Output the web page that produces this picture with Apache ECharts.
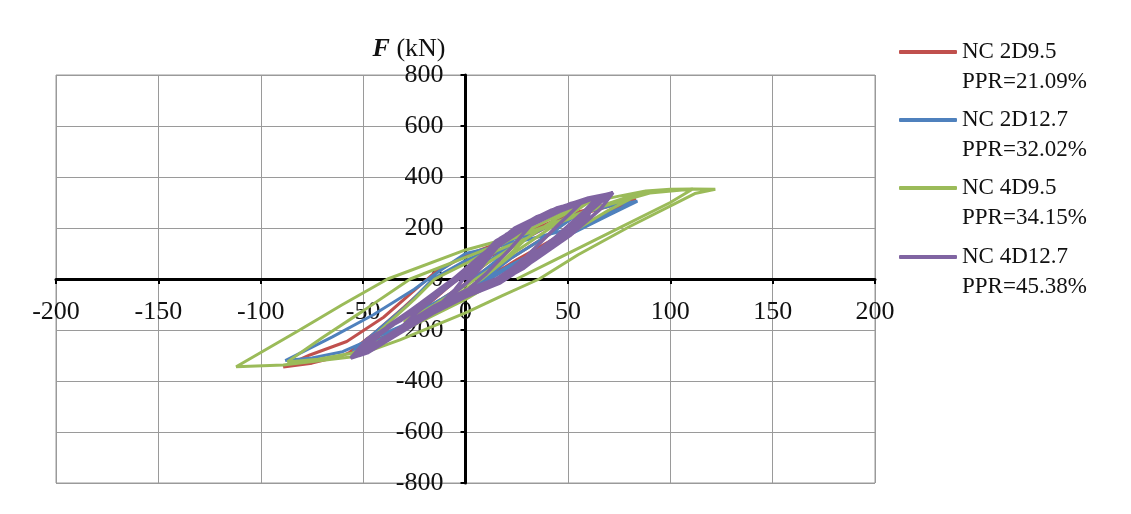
<!DOCTYPE html>
<html>
<head>
<meta charset="utf-8">
<script src="https://cdn.jsdelivr.net/npm/echarts/dist/echarts.min.js"></script>
<style>
	html, body { margin: 0; padding: 0; background: #fff; }
	#main { width: 1131px; height: 514px; }
</style>
</head>
<body>
<div id="main"></div>
<script>
// 坐标轴范围
var xRange = [-200, 200, 50];
var yRange = [-800, 800, 200];

var names = [
	'NC 2D9.5\nPPR=21.09%',
	'NC 2D12.7\nPPR=32.02%',
	'NC 4D9.5\nPPR=34.15%',
	'NC 4D12.7\nPPR=45.38%'
];
var colors = ['#C0504D', '#4F81BD', '#9BBB59', '#8064A2'];

// 滞回曲线 [位移, 力]
var nc2d95 = [
	[0,0],[12,70],[25,140],[14,60],[3,0],[0,-18],[-12,-80],[-25,-145],[-14,-70],[-4,0],[0,25],[12,90],[25,140],
	[40,205],[56,265],[42,180],[22,80],[8,0],[0,-45],[-25,-170],[-45,-250],[-57,-290],[-45,-215],[-30,-110],[-15,0],[0,70],[25,165],[45,235],[56,265],
	[70,295],[83,318],[68,255],[45,165],[25,75],[10,0],[0,-55],[-30,-190],[-60,-300],[-75,-330],[-89,-345],[-76,-298],[-58,-245],[-40,-150],[-25,-45],[-15,25],[0,92],[30,185],[60,262],[83,315],
	[65,240],[40,140],[20,50],[8,0]
];
var nc2d127 = [
	[0,0],[12,75],[25,145],[14,65],[4,0],[0,-20],[-12,-80],[-25,-140],[-14,-65],[-4,0],[0,28],[12,95],[25,145],
	[40,205],[55,255],[40,170],[22,80],[9,0],[0,-45],[-25,-165],[-45,-250],[-55,-285],[-42,-195],[-28,-100],[-16,0],[0,72],[25,160],[45,225],[55,255],
	[70,285],[84,305],[72,263],[60,220],[35,110],[12,0],[0,-55],[-30,-180],[-60,-285],[-75,-310],[-88,-320],[-65,-227],[-45,-140],[-25,-40],[-12,35],[0,100],[28,150],[56,206],[70,258],[84,305],
	[70,250],[45,150],[22,55],[10,0]
];
var nc4d95 = [
	[0,0],[10,60],[20,110],[30,160],[18,70],[5,0],[0,-25],[-15,-100],[-30,-170],[-18,-80],[-5,0],[0,30],[15,110],[30,160],
	[45,240],[60,300],[45,220],[25,110],[8,0],[0,-40],[-15,-115],[-30,-190],[-45,-260],[-56,-305],[-40,-190],[-25,-80],[-15,0],[0,60],[15,125],[30,190],[45,250],[60,300],
	[75,325],[88,345],[70,270],[45,150],[17,0],[0,-80],[-30,-200],[-55,-290],[-72,-315],[-87,-325],[-70,-230],[-50,-125],[-27,0],[0,85],[30,180],[60,270],[88,345],
	[100,352],[111,353],[122,352],[112,335],[80,205],[55,95],[36,0],[18,-65],[0,-133],[-32,-239],[-55,-305],[-89,-337],[-112,-344],
	[-81,-200],[-60,-100],[-38,0],[0,114],[36,192],[66,282],[90,337],[111,353],[100,300],[70,180],[45,80],[25,0]
];
var nc4d127 = [
	[0,0],[8,60],[15,120],[5,20],[0,-20],[-8,-70],[-15,-120],[-5,-40],[0,10],[15,120],
	[25,190],[35,240],[22,120],[10,20],[0,-50],[-15,-120],[-30,-200],[-38,-240],[-25,-140],[-10,-40],[0,20],[15,150],[35,240],
	[50,290],[58,310],[45,210],[30,90],[15,-10],[0,-70],[-16,-135],[-32,-210],[-48,-290],[-52,-300],[-45,-230],[-30,-150],[-15,-65],[0,25],[17,160],[35,245],[50,290],[58,310],
	[72,338],[66,275],[51,170],[34,75],[17,-15],[0,-70],[-16,-135],[-32,-212],[-48,-290],[-56,-310],[-48,-235],[-32,-165],[-16,-75],[0,20],[17,160],[34,240],[51,295],[72,338],
	[64,290],[48,180],[30,70],[14,-10],[0,-60],[-20,-150],[-40,-250],[-55,-305],[-44,-220],[-25,-120],[-8,-20],[5,60],[20,175],[40,260],[60,310],[70,330],
	[62,300],[55,240],[40,130],[22,20],[8,-40],[0,-65],[-12,-110],[-28,-190],[-44,-265],[-54,-300],[-46,-240],[-30,-150],[-14,-55],[0,30],[12,120],[28,215],[45,280],[66,325],
	[58,265],[42,150],[26,50],[10,-35],[0,-60],[-18,-140],[-36,-230],[-50,-290],[-40,-200],[-22,-95],[-6,0],[8,95],[24,200],[42,270],[60,318],[71,335],
	[60,260],[45,170],[30,80],[15,0],[0,-45],[-15,-105],[-30,-180],[-45,-260],[-53,-295],[-42,-210],[-26,-120],[-10,-30],[4,50],[18,140],[32,215],[50,285],[68,330],
	[55,230],[38,120],[22,30],[6,-40],[-10,-90],[-26,-165],[-42,-245],[-50,-285],[-38,-185],[-20,-85],[-2,15],[12,110],[28,195],[46,265],[64,320],
	[60,250],[44,140],[28,40],[12,-30],[0,-55]
];
var curves = [nc2d95, nc2d127, nc4d95, nc4d127];

// 图例位置
var legendTops = [7, 75, 143, 212];

var font = 'Liberation Serif, Times New Roman, serif';

// 绘图区 (像素)
var gridL = 56, gridR = 256, gridT = 75, gridB = 31;
var plotW = 1131 - gridL - gridR, plotH = 514 - gridT - gridB;

var axisCommon = {
	type: 'value',
	axisLine: { onZero: false, lineStyle: { color: '#000', width: 3 } },
	axisTick: { show: true, length: 5, lineStyle: { color: '#000', width: 2 } },
	splitLine: { show: true, lineStyle: { color: '#9a9a9a', width: 1 } },
	axisLabel: { fontFamily: font, fontSize: 26, color: '#111', showMinLabel: true, showMaxLabel: true }
};

var option = {
	animation: false,
	backgroundColor: '#fff',
	grid: {
		left: gridL, right: gridR, top: gridT, bottom: gridB,
		show: true, borderColor: '#9a9a9a', borderWidth: 1
	},
	// 轴移到零点
	xAxis: echarts.util.merge({
		position: 'bottom',
		offset: -plotH / 2,
		min: xRange[0], max: xRange[1], interval: xRange[2],
		axisLabel: { margin: 20 }
	}, axisCommon),
	yAxis: echarts.util.merge({
		position: 'left',
		offset: -plotW / 2,
		min: yRange[0], max: yRange[1], interval: yRange[2],
		axisLabel: { margin: 22 },
		name: '{b|F} (kN)',
		nameLocation: 'end',
		nameGap: 13,
		nameTextStyle: {
			fontFamily: font, fontSize: 26, color: '#111',
			align: 'right', verticalAlign: 'bottom', padding: [0, 20, 0, 0],
			rich: { b: { fontFamily: font, fontSize: 26, fontStyle: 'italic', fontWeight: 'bold', color: '#111' } }
		}
	}, axisCommon),
	legend: names.map(function (n, i) {
		return {
			data: [n],
			left: 899,
			top: legendTops[i],
			padding: 0,
			orient: 'vertical',
			icon: 'roundRect',
			itemWidth: 58,
			itemHeight: 4,
			selectedMode: false,
			formatter: function (name) { return ' \n' + name; },
			textStyle: { fontFamily: font, fontSize: 23, color: '#111', lineHeight: 30 }
		};
	}),
	series: function () {
		var serie = [];
		for (var i = 0; i < names.length; i++) {
			serie.push({
				name: names[i],
				type: 'line',
				data: curves[i],
				symbol: 'none',
				smooth: false,
				color: colors[i],
				lineStyle: { color: colors[i], width: i == 3 ? 3.5 : 3 }
			});
		}
		return serie;
	}()
};

var myChart = echarts.init(document.getElementById('main'));
myChart.setOption(option);
</script>
</body>
</html>
